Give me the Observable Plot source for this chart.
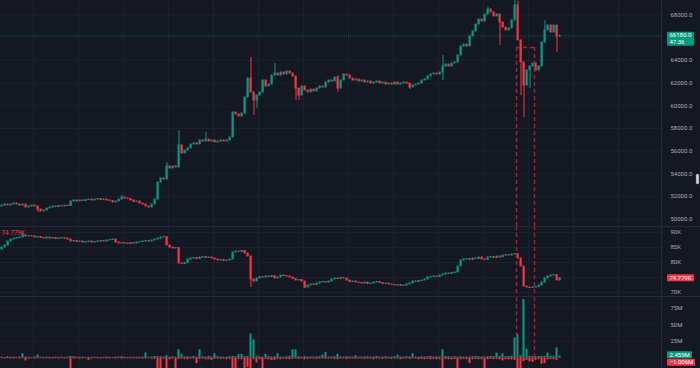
<!DOCTYPE html>
<html><head><meta charset="utf-8">
<script src="https://cdn.jsdelivr.net/npm/d3@7"></script>
<script src="https://cdn.jsdelivr.net/npm/@observablehq/plot@0.6"></script>
<style>
html,body{margin:0;padding:0;background:#141823;}
#chart{position:relative;width:700px;height:368px;background:#141823;overflow:hidden;font-family:Roboto,"Noto Sans",sans-serif;}
.pane{position:absolute;left:0;width:700px;}
.sep{position:absolute;left:0;width:700px;height:1px;background:#262a35;}
</style></head><body><div id="chart"></div>
<script>
// ---------- DATA ----------
// main price candles (close per bar; open = previous close)
const priceFirstOpen = 51120;
const priceClose = [
51200,51290,51200,51290,51380,51290,51200,51290,51030,51120,
51200,51120,50850,50680,50760,50940,51030,51120,51070,51160,
51120,51200,51160,51560,51650,51560,51650,51600,51690,51730,
51650,51730,51780,51690,51730,51650,51600,51470,51560,51730,
51910,51820,51780,51650,51510,51560,51380,51290,51120,51030,
51290,51730,53230,53590,53500,54650,54470,54650,54560,56500,
55790,56060,56240,56590,56680,56590,56940,56850,57030,56850,
56940,56770,56850,56940,56850,56940,57210,59410,59240,59060,
59320,60740,62410,61180,60470,60910,61180,62240,61710,61880,
62680,62850,62680,62940,62770,63030,62850,62590,61530,60910,
61710,61350,61180,61440,61270,61530,61710,61620,62060,62240,
62150,62500,61530,62240,62770,62680,62410,62240,62330,62150,
62240,62060,62150,61970,62060,62150,61970,62060,61880,61970,
61880,62060,61880,61970,62060,61970,61620,61800,61880,61970,
62240,62330,62590,62770,62850,62770,62940,63470,63650,63470,
63740,63830,64440,65240,65410,65240,66120,66560,67180,67620,
67440,68060,68500,68240,67890,68060,67360,66910,66650,66830,
67530,68860,65770,63830,61800,63120,63470,63740,63120,63470,
65590,66650,67090,66470,67090,66120,66180];
// visible wicks: [bar, high, low]
const priceWicks = [
[12,null,50590],[40,52090,null],[55,55000,null],[59,57820,null],[68,57650,null],
[83,64270,null],[84,null,59150],[85,null,59770],[91,63740,null],[98,null,60470],
[99,null,60470],[112,62680,61180],[136,null,61440],[147,64440,62240],[162,68700,null],
[166,null,65330],[171,69300,null],[172,69250,null],[173,null,60900],[174,null,58970],
[176,null,61530],[181,67530,null],[185,null,64710]];
const lastPrice = 66180;
const priceGrid = [50000,52000,54000,56000,58000,60000,62000,64000,66000,68000];
const priceLabels = [50000,52000,54000,56000,58000,60000,62000,64000,68000];

// second pane (K)
const oiFirstOpen = 84.33;
const oiClose = [
85.0,85.67,87.0,87.67,88.0,88.17,88.33,89.0,88.67,88.83,
88.67,88.33,88.5,88.17,88.0,88.33,88.0,88.17,87.83,88.0,
88.17,88.0,87.67,87.0,87.17,86.83,87.0,86.67,86.83,87.0,
86.67,86.83,87.0,87.17,87.0,87.33,87.5,87.67,86.67,86.33,
86.5,86.33,86.17,86.5,86.33,86.67,86.83,87.0,87.17,87.0,
87.33,87.67,88.0,88.33,88.5,85.67,85.0,84.67,84.83,79.67,
79.5,79.83,81.0,81.33,81.5,81.17,81.67,81.83,81.5,81.67,
81.33,81.0,80.67,80.83,80.5,80.67,81.0,83.33,83.67,83.5,
83.83,83.0,82.0,74.33,73.67,74.67,75.17,75.0,75.33,75.17,
75.5,74.67,75.0,75.67,75.5,75.33,75.0,74.5,74.0,74.17,
73.67,71.67,72.33,72.67,72.5,73.0,73.33,73.5,73.33,73.67,
74.33,74.67,74.5,74.83,74.67,74.0,73.5,73.67,73.33,73.17,
73.0,73.33,72.83,73.0,73.33,73.5,73.17,72.83,73.0,72.67,
72.5,72.33,72.5,72.17,72.33,72.67,73.0,73.67,73.5,73.83,
74.0,74.33,75.0,75.17,75.33,75.17,75.67,76.0,76.33,76.17,
76.5,76.67,78.67,80.67,81.0,81.17,80.83,81.33,81.17,81.67,
81.0,80.83,81.67,81.83,81.5,82.0,81.67,82.33,82.5,82.33,
82.67,82.83,81.33,78.67,72.0,71.67,71.5,71.67,71.83,72.33,
73.33,74.67,75.33,75.67,75.83,74.0,74.779];
const oiWicks = [[7,89.67,null],[83,null,71.67],[101,null,71.33]];
const oiGrid = [70,75,80,85,90];
const oiLabels = [70,80,85,90];

// third pane: buy / sell volume (M)
const buyVol = [
1,0.5,1.5,0.8,1,0.5,1.2,6,1,0.8,
0.6,1,4,0.8,0.5,1,0.7,0.5,1,0.6,
0.8,0.5,1,2,1.5,0.8,0.6,1,0.5,0.8,
0.6,1,0.7,0.5,0.8,1,0.6,0.5,0.9,1,
1.5,0.8,0.6,0.5,0.7,0.6,0.8,1,7,0.8,
1,2,2,1.5,1,3,1,1.5,1,12,
5,1,1.5,1,2,1,12,1.5,1,2,
1,6,1.5,1,0.8,1,1.5,2,1.5,5,
5,1.5,2,36,27,2,1.5,1,5,1.5,
1,1.5,6,1,0.8,1.5,2,12,12,1.5,
1,2,1,1.5,1,1,1.5,4,8,1,
1,1.5,5,1,1,1.5,1,1,3,1,
1,1,1.5,1,1,2,1,1,1.5,1,
1,1.5,4,1,1,1.5,1,6,1,1,
1.5,1,1.5,2,1,1.5,1,12,2,1.5,
1,1.5,1,1.5,1,1,1,1.5,2,1.5,
1,1,1.5,2,1.5,7,2,6,1.5,2,
2,30,35,3,88,13,2,2,1.5,2,
2,2,7,2,2,15,2.459];
const sellVol = [
-1.5,-2,-1.5,-2,-1.8,-1.5,-2,-1.5,-5,-2,
-1.5,-2,-1.8,-1.5,-2,-1.5,-2,-1.8,-1.5,-2,
-1.5,-2,-1.8,-18,-2,-1.5,-2,-1.8,-1.5,-4,
-2,-1.5,-1.8,-2,-1.5,-2,-1.8,-1.5,-2,-1.5,
-2,-1.5,-1.8,-2,-1.5,-2,-1.8,-2,-2,-1.5,
-2,-2.5,-25,-22,-2,-25,-3,-2,-22,-2.5,
-2,-2.5,-3,-2,-2,-9,-2.5,-2,-3,-3,
-4,-2.5,-2,-2.5,-2,-3,-2.5,-20,-18,-2.5,
-3,-20,-15,-20,-3,-8,-3,-20,-2.5,-3,
-4,-4,-2.5,-3,-2,-2.5,-3,-2.5,-2,-2.5,
-2,-3,-2.5,-2,-2,-2.5,-2,-2,-2.5,-2,
-2,-2.5,-3,-2,-2,-2.5,-2,-2,-2.5,-2,
-2,-2.5,-2,-2,-3,-2,-2,-2.5,-2,-2,
-2.5,-2,-2,-3,-2,-2,-2.5,-2,-2,-3,
-2.5,-3,-2.5,-3,-2.5,-3,-3,-20,-2.5,-3,
-3,-2.5,-22,-3,-2.5,-3,-9,-3,-2.5,-3,
-3,-18,-3,-2.5,-3,-2.5,-3,-5,-3,-3,
-3,-4,-20,-25,-6,-4,-6,-7,-4,-3,
-10,-9,-3,-2.5,-3,-4,-1.006];
const volTicks = [25,50,75];

// highlighted zone (bar indices, top price)
const zone = {start: 171.5, end: 177.5, top: 65150};
const countdown = "47:36";

// ---------- STYLE ----------
const GREEN = "#089981", RED = "#f23645", GRID = "#1d212c", BORDER = "#262a35";
const TXT = "#a9acb5", DASH = "#b81c2c", FONT = "Roboto, 'Noto Sans', sans-serif";
const W = 700, MR = 39, BAR = 3;
const xDomain = [-0.5, -0.5 + (W - MR) / BAR];
const timeTicks = d3.range(10.5, xDomain[1], 15);

function buildCandles(closes, firstOpen, wicks) {
  const out = closes.map((c, i) => {
    const o = i === 0 ? firstOpen : closes[i - 1];
    return {i, o, c, h: Math.max(o, c), l: Math.min(o, c)};
  });
  for (const [i, h, l] of wicks) { if (h != null) out[i].h = h; if (l != null) out[i].l = l; }
  return out;
}
const col = d => d.c >= d.o ? GREEN : RED;
function candleMarks(data) {
  return [
    Plot.ruleX(data, {x: "i", y1: "l", y2: "h", stroke: col, strokeWidth: 1}),
    Plot.rect(data, {x1: d => d.i - 0.34, x2: d => d.i + 0.34, y1: "o", y2: "c", fill: col, insetTop: -0.5, insetBottom: -0.5})
  ];
}
const base = (h) => ({
  width: W, height: h, marginTop: 0, marginBottom: 0, marginLeft: 0, marginRight: MR,
  style: {background: "transparent", color: TXT, fontFamily: FONT, fontSize: "6px", overflow: "visible"},
  x: {domain: xDomain, axis: null},
  color: {type: "identity"}
});
const axisR = (ticks, fmt) => Plot.axisY(ticks, {anchor: "right", tickSize: 0, tickPadding: 9, tickFormat: fmt, fill: TXT, fontSize: 6, label: null});
const dashStyle = {stroke: DASH, strokeWidth: 1.4, strokeDasharray: "4,3"};

const priceCandles = buildCandles(priceClose, priceFirstOpen, priceWicks);
const oiCandles = buildCandles(oiClose, oiFirstOpen, oiWicks);
const vol = buyVol.map((b, i) => ({i, b, s: sellVol[i]}));

const mainDomain = [49351, 69297];
const mainPlot = Plot.plot({
  ...base(226),
  y: {domain: mainDomain, axis: null},
  marks: [
    Plot.gridY(priceGrid, {stroke: GRID, strokeOpacity: 1}),
    Plot.gridX(timeTicks, {stroke: GRID, strokeOpacity: 1}),
    Plot.frame({anchor: "right", stroke: BORDER}),
    Plot.ruleY([lastPrice], {stroke: GREEN, strokeOpacity: 0.5, strokeDasharray: "1,1"}),
    ...candleMarks(priceCandles),
    Plot.ruleX([zone.start, zone.end], {y1: zone.top, y2: mainDomain[0], ...dashStyle}),
    Plot.ruleY([zone.top], {x1: zone.start, x2: zone.end, ...dashStyle}),
    axisR(priceLabels, d => d.toFixed(1))
  ]
});

const oiDomain = [68.667, 92];
const oiLast = oiClose[oiClose.length - 1];
const oiPlot = Plot.plot({
  ...base(70),
  y: {domain: oiDomain, axis: null},
  marks: [
    Plot.gridY(oiGrid, {stroke: GRID, strokeOpacity: 1}),
    Plot.gridX(timeTicks, {stroke: GRID, strokeOpacity: 1}),
    Plot.frame({anchor: "right", stroke: BORDER}),
    ...candleMarks(oiCandles),
    Plot.ruleX([zone.start, zone.end], dashStyle),
    Plot.text([oiLast], {frameAnchor: "top-left", text: d => d.toFixed(3) + "K", dx: 1, dy: 6.5, fill: RED, fontSize: 6.3, textAnchor: "start", lineAnchor: "middle"}),
    axisR(oiLabels, d => d + "K")
  ]
});

const volDomain = [-16.36, 92.73];
const volPlot = Plot.plot({
  ...base(72),
  y: {domain: volDomain, axis: null},
  marks: [
    Plot.gridY(volTicks, {stroke: GRID, strokeOpacity: 1}),
    Plot.gridX(timeTicks, {stroke: GRID, strokeOpacity: 1}),
    Plot.frame({anchor: "right", stroke: BORDER}),
    Plot.rect(vol, {x1: d => d.i - 0.34, x2: d => d.i + 0.34, y1: 0, y2: "s", fill: RED}),
    Plot.rect(vol, {x1: d => d.i - 0.34, x2: d => d.i + 0.34, y1: 0, y2: "b", fill: GREEN}),
    Plot.ruleX([zone.start, zone.end], {y1: 0, y2: volDomain[1], ...dashStyle}),
    axisR(volTicks, d => d + "M")
  ]
});

const chart = document.getElementById("chart");
[[mainPlot, 0], [oiPlot, 226], [volPlot, 296]].forEach(([p, top]) => {
  const d = document.createElement("div");
  d.className = "pane"; d.style.top = top + "px";
  d.appendChild(p); chart.appendChild(d);
});
[226, 296].forEach(t => { const s = document.createElement("div"); s.className = "sep"; s.style.top = t + "px"; chart.appendChild(s); });

// price tags on the right scale
function tag(plot, value, lines, fill, opt) {
  const yv = plot.scale("y").apply(value) + (opt.dy || 0);
  const x0 = W - MR + 6;
  const g = d3.select(plot).append("g").attr("font-family", FONT).attr("font-size", 6).attr("text-anchor", "start");
  g.append("rect").attr("x", x0).attr("y", yv - opt.h0).attr("width", opt.w).attr("height", opt.h).attr("rx", 1).attr("fill", fill);
  lines.forEach((t, k) => g.append("text").attr("x", x0 + 2.5).attr("y", yv + 2.1 + k * 7).attr("fill", "#ffffff").text(t));
}
tag(mainPlot, lastPrice, [lastPrice.toFixed(1), countdown], GREEN, {w: 27, h: 14, h0: 3.5, dy: 0});
tag(oiPlot, oiLast, [oiLast.toFixed(3) + "K"], RED, {w: 27, h: 7, h0: 3.5, dy: 0});
const bLast = buyVol[buyVol.length - 1], sLast = sellVol[sellVol.length - 1];
tag(volPlot, bLast, [bLast.toFixed(3) + "M"], GREEN, {w: 25, h: 7, h0: 3.5, dy: -0.9});
tag(volPlot, sLast, ["\u2212" + Math.abs(sLast).toFixed(3) + "M"], RED, {w: 28, h: 7, h0: 3.5, dy: 4.5});

// scroll handle on price scale
const yh = mainPlot.scale("y").apply(53500);
d3.select(mainPlot).append("rect").attr("x", W - 4).attr("y", yh - 5).attr("width", 3).attr("height", 10).attr("rx", 1)
  .attr("fill", "#d1d4dc").attr("stroke", "#5d606b").attr("stroke-width", 0.5);
</script>
</body></html>
